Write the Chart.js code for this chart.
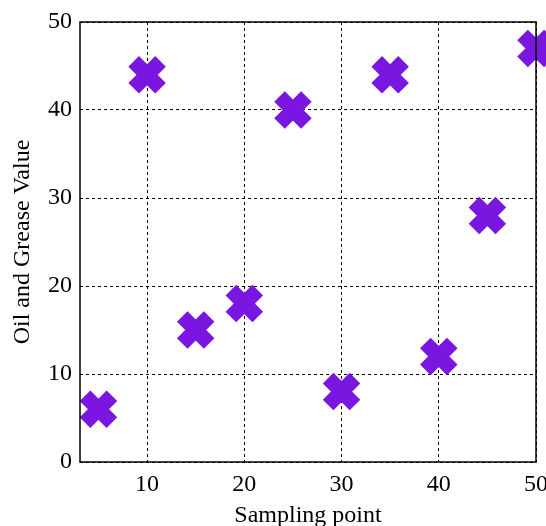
<!DOCTYPE html>
<html>
<head>
<meta charset="utf-8">
<script src="https://cdn.jsdelivr.net/npm/chart.js@4/dist/chart.umd.min.js"></script>
<style>
  html, body { margin: 0; padding: 0; background: #fff; }
  #wrap { width: 546px; height: 526px; }
</style>
</head>
<body>
<div id="wrap"><canvas id="chart"></canvas></div>
<script>
const samplingPoints = [5, 10, 15, 20, 25, 30, 35, 40, 45, 50];
const oilGreaseValues = [6, 44, 15, 18, 40, 8, 44, 12, 28, 47];

const serif = "'Liberation Serif', 'Times New Roman', serif";

// black box round the plot, drawn over the markers
const frame = {
  id: 'frame',
  afterDatasetsDraw(chart) {
    const a = chart.chartArea;
    const ctx = chart.ctx;
    ctx.save();
    ctx.strokeStyle = '#000';
    ctx.lineWidth = 1.5;
    ctx.strokeRect(a.left, a.top, a.right - a.left, a.bottom - a.top);
    ctx.restore();
  }
};

new Chart(document.getElementById('chart'), {
  type: 'scatter',
  data: {
    datasets: [{
      data: samplingPoints.map((x, i) => ({ x, y: oilGreaseValues[i] })),
      pointStyle: 'crossRot',
      pointRadius: 19,
      pointHoverRadius: 19,
      pointBorderWidth: 15,
      borderColor: '#7a16e0',
      backgroundColor: '#7a16e0',
      clip: false
    }]
  },
  options: {
    responsive: true,
    maintainAspectRatio: false,
    animation: false,
    layout: { autoPadding: false, padding: { top: 22, right: 10, left: 0, bottom: 0 } },
    plugins: { legend: { display: false }, tooltip: { enabled: false } },
    scales: {
      x: {
        type: 'linear',
        min: 3.1,
        max: 50,
        afterFit(s) { s.height = 64; s.paddingLeft = 0; s.paddingRight = 0; },
        ticks: { stepSize: 10, includeBounds: false, color: '#000', padding: 8,
                 font: { family: serif, size: 24 } },
        grid: { color: '#000', lineWidth: 1, drawTicks: false },
        border: { display: false, dash: [3, 3] },
        title: { display: true, text: 'Sampling point', color: '#000', padding: { top: 0, bottom: -4 },
                 font: { family: serif, size: 24 } }
      },
      y: {
        min: 0,
        max: 50,
        afterFit(s) { s.width = 80; s.paddingTop = 0; s.paddingBottom = 0; },
        ticks: { stepSize: 10, color: '#000', padding: 8,
                 font: { family: serif, size: 24 } },
        grid: { color: '#000', lineWidth: 1, drawTicks: false },
        border: { display: false, dash: [3, 3] },
        title: { display: true, text: 'Oil and Grease Value', color: '#000', padding: { top: 8, bottom: 0 },
                 font: { family: serif, size: 24 } }
      }
    }
  },
  plugins: [frame]
});
</script>
</body>
</html>
